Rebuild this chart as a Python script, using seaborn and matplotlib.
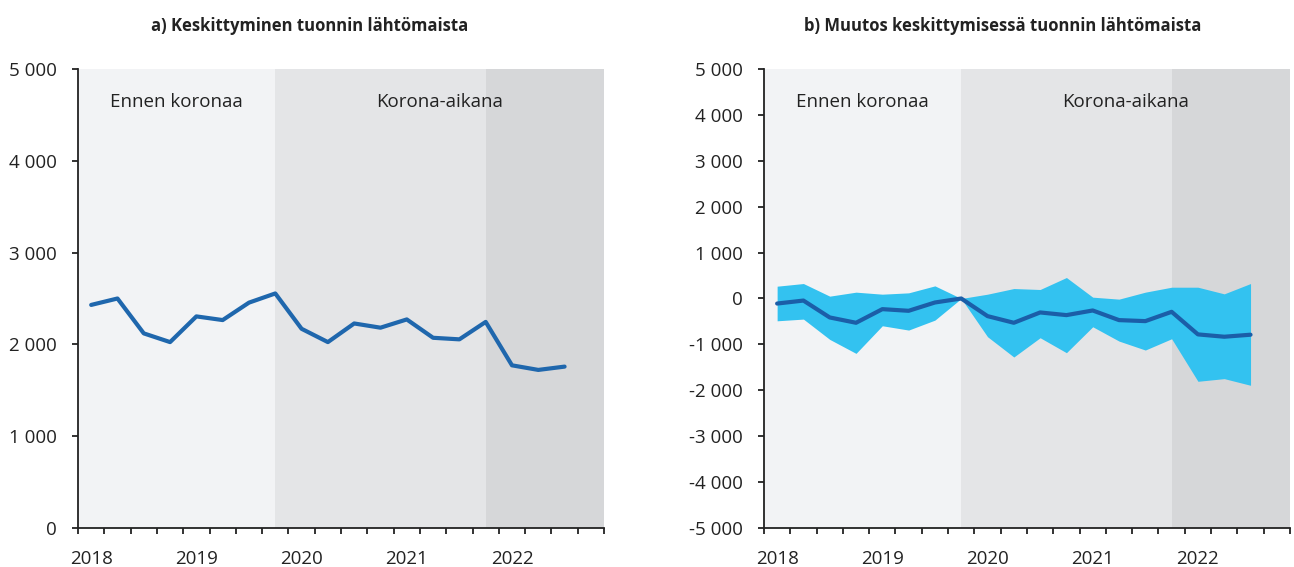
import numpy as np
import pandas as pd
import matplotlib
matplotlib.use("Agg")
from matplotlib import pyplot as plt
from matplotlib.ticker import FuncFormatter, FixedLocator
import seaborn as sns

# quarterly data 2018Q1 .. 2022Q3
quarters = ["2018Q1", "2018Q2", "2018Q3", "2018Q4",
            "2019Q1", "2019Q2", "2019Q3", "2019Q4",
            "2020Q1", "2020Q2", "2020Q3", "2020Q4",
            "2021Q1", "2021Q2", "2021Q3", "2021Q4",
            "2022Q1", "2022Q2", "2022Q3"]
concentration = [2430, 2500, 2120, 2025, 2305, 2265, 2455, 2555, 2170, 2025,
                 2228, 2182, 2272, 2072, 2055, 2245, 1772, 1722, 1758]
change = [-110, -45, -413, -529, -232, -268, -87, 0, -384, -529,
          -304, -362, -261, -471, -493, -290, -782, -833, -789]
change_upper = [268, 326, 51, 138, 94, 123, 275, 0, 94, 217,
                196, 457, 29, -14, 138, 246, 246, 101, 326]
change_lower = [-486, -449, -891, -1196, -594, -688, -471, 0, -833, -1275,
                -855, -1181, -616, -928, -1123, -877, -1804, -1746, -1891]
year_labels = ["2018", "2019", "2020", "2021", "2022"]
period_labels = ["Ennen koronaa", "Korona-aikana"]
titles = ["a) Keskittyminen tuonnin lähtömaista",
          "b) Muutos keskittymisessä tuonnin lähtömaista"]

df = pd.DataFrame({"q": np.arange(len(quarters)), "conc": concentration,
                   "chg": change, "hi": change_upper, "lo": change_lower})

sns.set_style("ticks")
plt.rcParams['font.family'] = ['Open Sans', 'DejaVu Sans']
plt.rcParams['axes.edgecolor'] = '#222222'
plt.rcParams['xtick.color'] = '#222222'
plt.rcParams['ytick.color'] = '#222222'

fig = plt.figure(figsize=(12.94, 5.67), dpi=100)
ax1 = fig.add_axes([0.0603, 0.0688, 0.4065, 0.8095])
ax2 = fig.add_axes([0.5904, 0.0688, 0.4065, 0.8095])

shades = [(-0.5, 7, '#f2f3f5'), (7, 15, '#e4e5e7'), (15, 19.5, '#d6d7d9')]

def thousands(v, pos):
    s = f"{abs(int(round(v))):,}".replace(",", " ")
    return ("-" + s) if v < 0 else s

def setup(ax, ylo, yhi, step, label_y):
    for x0, x1, c in shades:
        ax.axvspan(x0, x1, ymin=0, ymax=1, color=c, lw=0, zorder=0)
    ax.set_xlim(-0.5, 19.5)
    ax.set_ylim(ylo, yhi)
    ax.set_yticks(np.arange(ylo, yhi + 1, step))
    ax.yaxis.set_major_formatter(FuncFormatter(thousands))
    ax.xaxis.set_major_locator(FixedLocator(np.arange(-0.5, 20, 1)))
    ax.xaxis.set_major_formatter(FuncFormatter(lambda v, p: ""))
    ax.xaxis.set_minor_locator(FixedLocator([0, 4, 8, 12, 16]))
    ax.set_xticklabels(year_labels, minor=True)
    ax.tick_params(axis='x', which='minor', length=0, pad=16, labelsize=13.5)
    ax.tick_params(axis='x', which='major', length=4.5, width=1.3, direction='out')
    ax.tick_params(axis='y', length=4.5, width=1.3, labelsize=13.5, pad=10.5)
    for s in ["top", "right"]:
        ax.spines[s].set_visible(False)
    for s in ["left", "bottom"]:
        ax.spines[s].set_linewidth(1.3)
    ax.set_xlabel("")
    ax.set_ylabel("")
    ax.text(3.25, label_y, period_labels[0], ha='center', va='center',
            fontsize=13.5, color='#222222')
    ax.text(13.25, label_y, period_labels[1], ha='center', va='center',
            fontsize=13.5, color='#222222')

sns.lineplot(data=df, x="q", y="conc", ax=ax1, color='#1f67ad', lw=3, zorder=3)
setup(ax1, 0, 5000, 1000, 4640)

ax2.fill_between(df["q"], df["lo"], df["hi"], color='#33c2f0', lw=0, zorder=2)
sns.lineplot(data=df, x="q", y="chg", ax=ax2, color='#1b5ea8', lw=3, zorder=3)
setup(ax2, -5000, 5000, 1000, 4280)

fig.text(0.2396, 0.955, titles[0], ha='center', va='center',
         fontsize=12, fontweight='bold', color='#222222')
fig.text(0.7751, 0.955, titles[1], ha='center', va='center',
         fontsize=12, fontweight='bold', color='#222222')

fig.savefig("out.png", dpi=100)
